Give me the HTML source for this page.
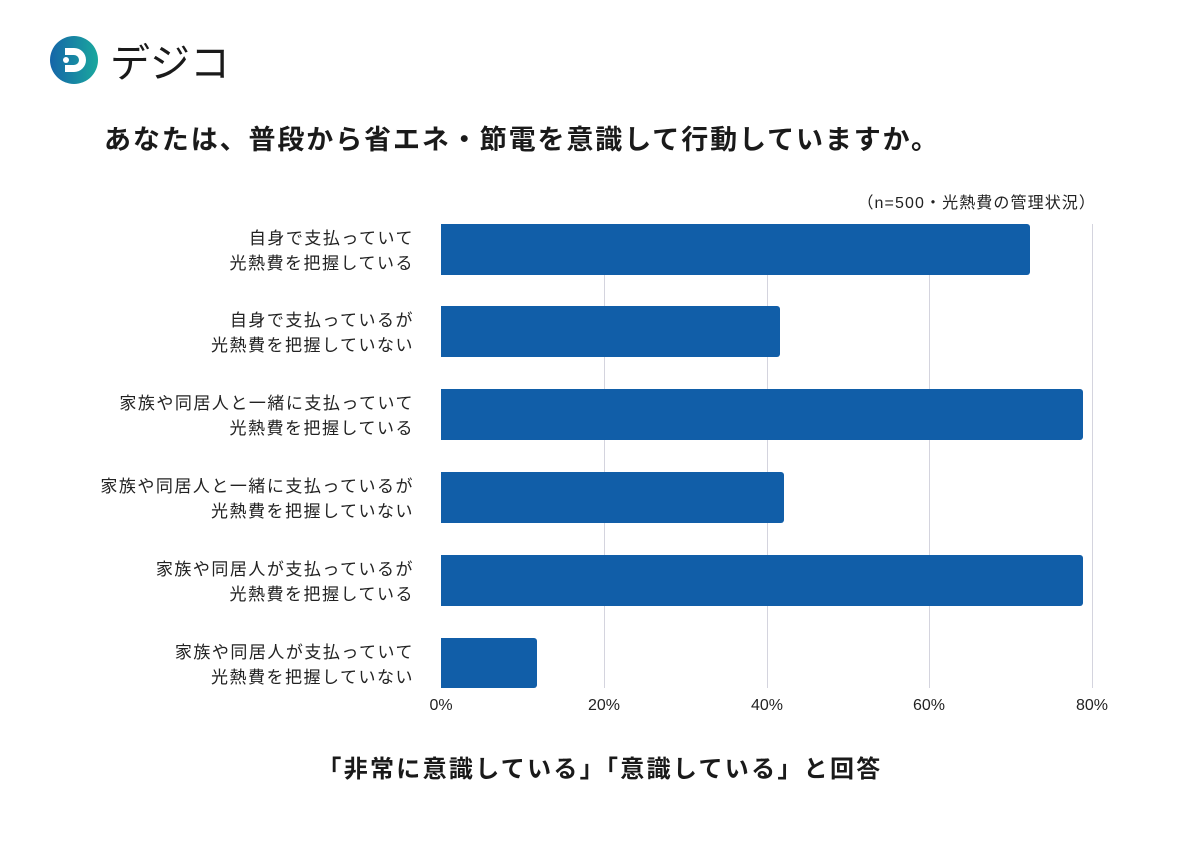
<!DOCTYPE html>
<html><head><meta charset="utf-8"><style>
body{margin:0;width:1200px;height:850px;background:#fff;font-family:"Liberation Sans","Noto Sans CJK JP",sans-serif;color:#222;position:relative;overflow:hidden}
.a{position:absolute}
.title{left:104px;top:118px;font-size:27px;letter-spacing:1.9px;font-weight:bold;white-space:nowrap;color:#1a1a1a}
.note{right:104px;top:189px;font-size:16px;letter-spacing:1.1px;white-space:nowrap}
.lab{right:786px;font-size:17px;letter-spacing:1.5px;text-align:right;line-height:25px;white-space:nowrap}
.bar{left:441px;height:51px;background:#115ea8;border-radius:0 3px 3px 0}
.grid{top:224px;height:464px;width:1px;background:#d4d4de}
.tick{top:697px;font-size:16px;width:60px;text-align:center}
.foot{left:0;width:1200px;text-align:center;top:749px;font-size:24px;letter-spacing:2.3px;font-weight:bold;color:#1a1a1a}
</style></head><body>
<svg class="a" style="left:50px;top:35px" width="180" height="50">
<defs><linearGradient id="g" x1="0" x2="1"><stop offset="0" stop-color="#1565a8"/><stop offset="1" stop-color="#1aa89e"/></linearGradient></defs>
<circle cx="24" cy="25" r="24" fill="url(#g)"/>
<path d="M15 13h9a12 12 0 0 1 0 24h-9v-7h9a5 5 0 0 0 0-10h-9z" fill="#fff"/>
<circle cx="16" cy="25" r="3" fill="#fff"/>
<text x="60" y="42" font-size="40" fill="#1a1a1a" font-family="Noto Sans CJK JP,sans-serif">デジコ</text>
</svg>
<div class="a title">あなたは、普段から省エネ・節電を意識して行動していますか。</div>
<div class="a note">（n=500・光熱費の管理状況）</div>
<div class="a grid" style="left:604px"></div>
<div class="a grid" style="left:767px"></div>
<div class="a grid" style="left:929px"></div>
<div class="a grid" style="left:1092px"></div>
<div class="a bar" style="top:224px;width:589px"></div>
<div class="a bar" style="top:306px;width:339px"></div>
<div class="a bar" style="top:389px;width:642px"></div>
<div class="a bar" style="top:472px;width:343px"></div>
<div class="a bar" style="top:555px;width:642px"></div>
<div class="a bar" style="top:638px;width:96px;height:50px"></div>
<div class="a lab" style="top:226px">自身で支払っていて<br>光熱費を把握している</div>
<div class="a lab" style="top:308px">自身で支払っているが<br>光熱費を把握していない</div>
<div class="a lab" style="top:391px">家族や同居人と一緒に支払っていて<br>光熱費を把握している</div>
<div class="a lab" style="top:474px">家族や同居人と一緒に支払っているが<br>光熱費を把握していない</div>
<div class="a lab" style="top:557px">家族や同居人が支払っているが<br>光熱費を把握している</div>
<div class="a lab" style="top:640px">家族や同居人が支払っていて<br>光熱費を把握していない</div>
<div class="a tick" style="left:411px">0%</div>
<div class="a tick" style="left:574px">20%</div>
<div class="a tick" style="left:737px">40%</div>
<div class="a tick" style="left:899px">60%</div>
<div class="a tick" style="left:1062px">80%</div>
<div class="a foot">「非常に意識している」「意識している」と回答</div>
</body></html>
